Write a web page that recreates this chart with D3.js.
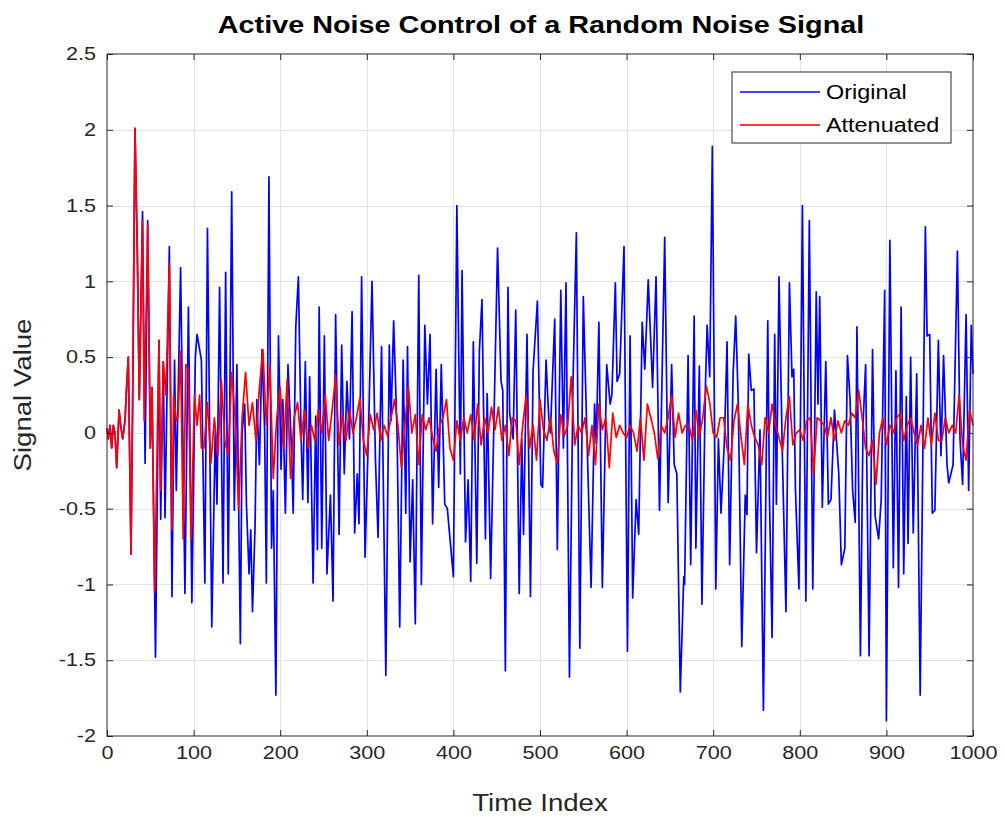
<!DOCTYPE html>
<html>
<head>
<meta charset="utf-8">
<style>
    body { margin: 0; background: #fff; }
    svg { display: block; font-family: "Liberation Sans", Arial, sans-serif; }
    .tick text { font-size: 18px; fill: #262626; }
    .axis .domain { display: none; }
    .axis .tick line { stroke: #262626; }
</style>
</head>
<body>
<svg width="1005" height="817"></svg>
<script src="https://d3js.org/d3.v7.min.js"></script>
<script>
    // tick values
    const xTicks = [0, 100, 200, 300, 400, 500, 600, 700, 800, 900, 1000];
    const yTicks = [-2, -1.5, -1, -0.5, 0, 0.5, 1, 1.5, 2, 2.5];

    // original signal as [time index, value] vertices
    const blueSignal = [
        [0, 0.03], [1.5, -0.04], [3.5, 0.05], [5.4, -0.1], [7.3, 0.05], [9.2, 0], [11.2, -0.23], [13.9, 0.15],
        [15.8, 0.05], [18.1, -0.04], [20.8, 0.08], [22.7, 0.31], [24.6, 0.5], [27.7, -0.8], [29.6, 0.19],
        [32.3, 2.01], [35, 1.2], [37.3, 0.22],
        [41, 1.46], [44, -0.2], [47, 1.4], [50, -0.1], [52, 0.3], [56, -1.48], [60, 0.61], [62, -0.57],
        [65, 0.47], [67, -0.56], [72, 1.23], [75, -1.08], [78, 0.48], [80, -0.38], [85, 1.09], [90, -1.06],
        [94, 0.83], [98, -1.12], [102, 0.5], [104, 0.65], [109, 0.48], [113, -0.99], [116, 1.35], [121, -1.28],
        [125, 0.02], [127, -0.47], [130, 0.96], [134, -0.99], [137, 1.06], [140, -0.93], [144, 1.59], [147, -0.51],
        [150, 0.45], [154, -1.39], [156, 0], [159, 0.19], [161, -0.47], [164, -0.93], [166, -0.64], [168, -1.18],
        [171, -0.61], [173, 0.22], [176, -0.21], [179, 0.55], [182, 0.02], [184, -0.99], [187, 1.69], [190, -0.76],
        [192, -0.38], [195, -1.73], [198, 0.64], [201, -0.24], [203, 0.22], [206, -0.53], [209, 0.45], [213, -0.1],
        [215, -0.53], [218, 0.7], [221, 1.03], [224, 0.02], [226, -0.44], [229, 0.47], [232, -0.46], [234, 0.37],
        [238, -0.99], [241, 0.11], [243, -0.77], [245, 0.83], [248, -0.76], [251, 0.64],
        [254, -0.93], [258, -0.41], [261, -1.11], [264, 0.78], [268, -0.67], [271, 0.58], [274, -0.27], [277, 0.34],
        [280, -0.04], [283, 0.8], [286, -0.66], [289, -0.27], [291, -0.6], [294, 1.03], [298, -0.82], [302, 0.02],
        [306, 1.0], [310, -0.18], [313, -0.69], [317, 0.57], [322, -1.6], [326, 0.58], [328, 0.08], [331, 0.74],
        [335, -0.01], [338, -1.28], [342, 0.48], [345, -0.53], [347, 0.57], [350, -0.85], [353, -0.31], [356, -1.26],
        [360, 1.04], [363, -1.0], [367, 0.71], [370, 0.19], [373, 0.65], [376, -0.6],
        [380, 0.42], [383, -0.36], [386, 0.45], [390, -0.47], [393, -0.5], [395, -0.63], [400, -0.95], [404, 1.5],
        [408, -0.27], [410, 1.07], [414, -0.72], [417, -0.31], [420, -0.98], [423, 0.6], [427, -0.86], [430, 0.54],
        [433, 0.88], [437, -0.7], [439, 0.26], [443, -0.96], [447, 0.13], [451, 1.22], [455, 0.34], [457, 0.28],
        [460, -1.57], [463, 0.96], [465, 0.13], [469, -0.04], [472, 0.81], [476, -1.06], [479, -0.04], [481, -0.67],
        [485, 0.65], [489, -1.08], [492, 0.41], [497, 0.87], [501, -0.34],
        [503, -0.36], [507, 0.48], [510, 0.11], [512, 0], [517, 0.75], [520, -0.77], [524, 0.94], [527, -0.1],
        [530, 0.99], [534, -1.61], [538, 0.31], [542, 1.32], [546, -1.42], [550, 0.9], [554, 0.02], [559, -1.02],
        [563, 0.19], [565, -0.07], [568, 0.73], [572, -1.02], [577, 0.45], [581, 0.19], [583, 0.25], [587, 0.99],
        [589, 0.34], [592, 0.39], [597, 1.23], [601, -1.44], [604, 0.64], [607, -1.09], [611, -0.44], [614, -0.67],
        [618, 0.73], [621, 0.42], [625, 1.01], [630, 0.3], [634, 1.03],
        [638, -0.51], [644, 1.29], [648, -0.46], [652, 0.45], [655, -0.21], [658, -0.27], [662, -1.71], [666, -0.95],
        [667, -1.0], [671, 0.51], [674, -0.87], [678, 0.77], [680, -0.76], [684, 0.44], [687, -1.13], [691, 0.31],
        [693, 0.71], [696, 0.37], [699, 1.89], [703, -1.03], [706, -0.04], [709, -0.53], [713, -0.04], [716, 0.6],
        [719, -0.87], [723, 0.39], [726, 0.77], [729, 0.19], [733, -1.41], [737, -0.41], [739, -0.54], [741, 0.52],
        [744, 0.28], [747, 0.29], [750, -0.79], [754, 0.02], [758, -1.83],
        [763, 0.74], [765, -0.44], [768, -1.35], [771, 0.65], [773, -0.47], [776, 1.03], [780, -0.18], [784, -1.18],
        [788, 0.99], [791, 0.37], [793, 0.42], [795, -0.38], [799, -1.03], [803, 1.5], [807, -1.11], [811, 1.4],
        [815, -1.03], [819, 0.93], [821, 0.19], [823, 0.9], [826, -0.49], [830, 0.47], [833, -0.47], [836, -0.44],
        [840, 0.15], [845, -0.27], [848, -0.87], [852, -0.76], [855, 0.51], [858, 0.22], [861, -0.38], [864, -0.59],
        [866, 0.7], [870, -1.47], [873, 0.05], [876, 0.45], [880, -1.47], [884, 0.55], [887, -0.55], [891, -0.7],
        [894, -0.44], [898, 0.94], [900, -1.9], [904, 1.27], [908, -0.89], [911, 0.41], [914, -1.02], [917, 0.83],
        [920, -0.93], [923, 0.24], [925, -0.73], [928, 0.5], [931, -0.66], [935, 0.39], [939, -1.73], [945, 1.36],
        [947, 0.64], [950, 0.65], [953, -0.53], [956, -0.51], [960, 0.61], [963, -0.15], [966, 0.51], [970, -0.21],
        [972, -0.33], [977, -0.21], [982, 1.2], [985, -0.04], [988, -0.34], [992, 0.78], [995, -0.38], [998, 0.71],
        [1000, 0.39]
    ];

    // attenuated signal: first 110 samples as vertices, then one value every 4 samples
    const redStart = [
        [0, 0.03], [1.5, -0.04], [3.5, 0.05], [5.4, -0.1], [7.3, 0.05], [9.2, 0], [11.2, -0.23], [13.9, 0.15],
        [15.8, 0.05], [18.1, -0.04], [20.8, 0.08], [22.7, 0.31], [24.6, 0.5], [27.7, -0.8], [29.6, 0.19],
        [32.3, 2.01], [35, 1.2], [37.3, 0.22], [41, 1.4], [43, 0.08], [47, 1.37], [50, -0.1], [52, 0.3],
        [55, -1.05], [60, 0.61], [62, -0.38], [65, 0.47], [68, 0.25], [72, 1.12], [75, -0.64], [77, 0.25],
        [80, 0.08], [82, 0.11], [85, 0.54], [88, -0.7], [91, 0.45], [94, 0.42], [97, -0.7], [101, 0.25],
        [104, 0.05], [107, 0.25], [109, -0.1]
    ];
    const redTailStart = 112;
    const redTailStep = 4;
    const redTail = [
        -0.1, 0.2, -0.2, 0.1, -0.15, 0.35, -0.05, -0.15, 0.4, 0.1,
        -0.5, 0.1, 0.4, 0.05, 0.2, -0.05, 0.3, 0.55, 0.05, 0.45,
        -0.3, 0.1, 0.3, -0.1, 0.35, -0.3, 0.1, 0.2, -0.05, 0.15,
        -0.1, 0.05, -0.05, 0.15, 0.0, 0.25, -0.05, 0.15, 0.38, -0.08,
        0.12, -0.05, 0.15, 0.0, 0.1, 0.23, -0.05, -0.15, 0.12, 0.02,
        0.13, -0.05, 0.05, -0.02, 0.1, 0.22, 0.05, -0.23, 0.05, 0.31,
        0.0, 0.12, -0.21, 0.12, 0.02, 0.1, -0.03, -0.12, 0.05, 0.1,
        0.22, -0.1, -0.18, 0.08, -0.05, 0.1, 0.0, 0.12, -0.05, 0.19,
        -0.08, 0.1, 0.0, 0.17, 0.02, 0.17, -0.05, 0.05, -0.15, 0.1,
        0.08, -0.21, 0.05, 0.25, -0.1, 0.05, -0.18, 0.22, 0.02, -0.05,
        0.1, -0.12, -0.2, 0.12, -0.02, 0.05, 0.37, -0.08, 0.05, 0.0,
        0.1, -0.15, 0.05, -0.21, 0.19, 0.02, 0.1, -0.23, 0.13, -0.03,
        0.05, 0.0, -0.03, 0.05, 0.0, -0.12, 0.1, -0.18, 0.19, 0.1,
        0.0, -0.17, 0.05, 0.0, 0.1, 0.25, -0.03, 0.13, 0.0, 0.05,
        0.05, -0.05, 0.15, -0.02, 0.1, 0.31, 0.2, 0.0, -0.03, 0.1,
        0.1, -0.1, -0.18, 0.08, 0.19, -0.02, -0.21, 0.19, 0.05, -0.03,
        -0.08, -0.21, 0.1, 0.0, 0.19, 0.05, -0.03, -0.12, 0.1, 0.24,
        -0.08, 0.0, 0.02, -0.05, 0.08, 0.1, -0.27, 0.1, 0.08, 0.05,
        -0.03, 0.1, -0.05, 0.08, 0.0, 0.08, 0.05, 0.13, 0.1, 0.28,
        0.1, -0.1, -0.15, -0.05, -0.34, 0.0, 0.1, -0.08, 0.05, 0.0,
        0.1, 0.13, -0.05, 0.05, 0.1, 0.0, -0.08, 0.05, -0.1, 0.1,
        -0.08, 0.13, -0.05, -0.05, 0.1, 0.0, 0.05, 0.0, 0.25, -0.08,
        -0.18, 0.15, 0.05
    ];

    const legendLabels = ["Original", "Attenuated"];
    const seriesColors = ["#0000ff", "#ff0000"];

    const width = 1005;
    const height = 817;
    const margin = { top: 54, right: 32, bottom: 81, left: 107 };
    const stretch = 1.2; // text in the figure is drawn a bit wide

    const svg = d3.select("svg");

    const x = d3.scaleLinear()
        .domain([0, 1000])
        .range([margin.left, width - margin.right]);

    const y = d3.scaleLinear()
        .domain([-2, 2.5])
        .range([height - margin.bottom, margin.top]);

    function widen(sel) {
        sel.each(function () {
            const w = this.getComputedTextLength();
            d3.select(this)
                .attr("textLength", w * stretch)
                .attr("lengthAdjust", "spacingAndGlyphs");
        });
    }

    // grid
    const grid = svg.append("g").attr("stroke", "#e3e3e3").attr("stroke-width", 1);
    grid.selectAll(".gx")
        .data(xTicks.slice(1, -1))
        .join("line")
        .attr("x1", d => Math.round(x(d)) + 0.5)
        .attr("x2", d => Math.round(x(d)) + 0.5)
        .attr("y1", y(2.5))
        .attr("y2", y(-2));
    grid.selectAll(".gy")
        .data(yTicks.slice(1, -1))
        .enter().append("line")
        .attr("x1", x(0))
        .attr("x2", x(1000))
        .attr("y1", d => Math.round(y(d)) + 0.5)
        .attr("y2", d => Math.round(y(d)) + 0.5);

    // lines
    const redSignal = redStart.concat(redTail.map((v, i) => [redTailStart + i * redTailStep, v]));
    const line = d3.line()
        .x(d => x(d[0]))
        .y(d => y(d[1]));

    const plot = svg.append("g");
    plot.append("path")
        .datum(blueSignal)
        .attr("fill", "none")
        .attr("stroke", seriesColors[0])
        .attr("stroke-width", 1.7)
        .attr("stroke-linejoin", "round")
        .attr("d", line);
    plot.append("path")
        .datum(redSignal)
        .attr("fill", "none")
        .attr("stroke", seriesColors[1])
        .attr("stroke-width", 1.7)
        .attr("stroke-linejoin", "round")
        .attr("d", line);

    // axes, ticks pointing inward
    const fmt = d => String(d);
    svg.append("g")
        .attr("class", "axis")
        .attr("transform", `translate(0,${height - margin.bottom})`)
        .call(d3.axisBottom(x).tickValues(xTicks).tickFormat(fmt).tickSize(-6).tickSizeOuter(0).tickPadding(10));
    svg.append("g")
        .attr("class", "axis")
        .attr("transform", `translate(0,${margin.top})`)
        .call(d3.axisTop(x).tickValues(xTicks).tickFormat("").tickSize(-6).tickSizeOuter(0));
    svg.append("g")
        .attr("class", "axis")
        .attr("transform", `translate(${margin.left},0)`)
        .call(d3.axisLeft(y).tickValues(yTicks).tickFormat(fmt).tickSize(-6).tickSizeOuter(0).tickPadding(11));
    svg.append("g")
        .attr("class", "axis")
        .attr("transform", `translate(${width - margin.right},0)`)
        .call(d3.axisRight(y).tickValues(yTicks).tickFormat("").tickSize(-6).tickSizeOuter(0));

    svg.selectAll(".axis .tick text").call(widen);

    // box
    svg.append("rect")
        .attr("x", x(0))
        .attr("y", y(2.5))
        .attr("width", x(1000) - x(0))
        .attr("height", y(-2) - y(2.5))
        .attr("fill", "none")
        .attr("stroke", "#262626")
        .attr("stroke-width", 1);

    // title and axis labels
    svg.append("text")
        .attr("x", 541)
        .attr("y", 33)
        .attr("text-anchor", "middle")
        .style("font-size", "24px")
        .style("font-weight", "bold")
        .style("fill", "#000")
        .text("Active Noise Control of a Random Noise Signal")
        .call(widen);

    svg.append("text")
        .attr("x", (x(0) + x(1000)) / 2)
        .attr("y", 811)
        .attr("text-anchor", "middle")
        .style("font-size", "23px")
        .style("fill", "#262626")
        .text("Time Index")
        .call(widen);

    svg.append("text")
        .attr("transform", `translate(31,${(y(2.5) + y(-2)) / 2}) rotate(-90)`)
        .attr("text-anchor", "middle")
        .style("font-size", "23px")
        .style("fill", "#262626")
        .text("Signal Value")
        .call(widen);

    // legend
    const legend = svg.append("g").attr("transform", "translate(732,72)");
    legend.append("rect")
        .attr("width", 219)
        .attr("height", 71)
        .attr("fill", "#fff")
        .attr("stroke", "#262626")
        .attr("stroke-width", 1);
    const items = legend.selectAll("g")
        .data(legendLabels)
        .join("g")
        .attr("transform", (d, i) => `translate(0,${20 + i * 33})`);
    items.append("line")
        .attr("x1", 8)
        .attr("x2", 88)
        .attr("stroke", (d, i) => seriesColors[i])
        .attr("stroke-width", 1.4);
    items.append("text")
        .attr("x", 94)
        .attr("y", 7)
        .style("font-size", "19.5px")
        .style("fill", "#000")
        .text(d => d)
        .call(widen);
</script>
</body>
</html>
